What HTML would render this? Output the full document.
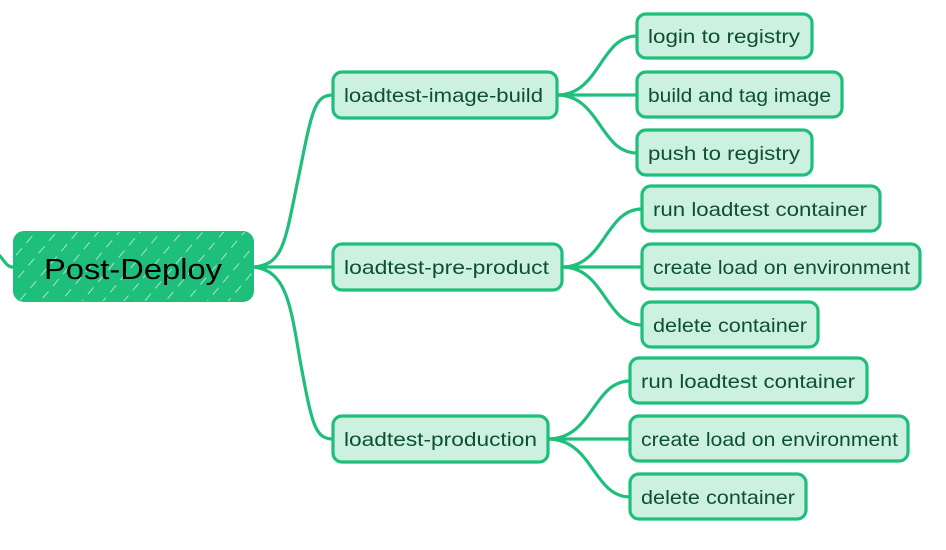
<!DOCTYPE html>
<html><head><meta charset="utf-8"><style>
html,body{margin:0;padding:0;background:#fff;}
svg{display:block;}
text{font-family:"Liberation Sans","DejaVu Sans",sans-serif;fill:#0d4f31;font-size:19.5px;}
</style></head><body>
<svg width="946" height="550" viewBox="0 0 946 550" xmlns="http://www.w3.org/2000/svg">
<defs>
<pattern id="h2" width="16" height="16" patternUnits="userSpaceOnUse" patternTransform="rotate(40)">
<line x1="0" y1="0" x2="0" y2="9" stroke="#ffffff" stroke-width="1.5" opacity="0.8"/>
</pattern>
</defs>
<g fill="none" stroke="#1dbf7b" stroke-width="3.2" stroke-linecap="round">
<path d="M0 256 C5 262 8 268 14 267"/>
<path d="M253 267 C285 265 285 240 300 170 C312 110 315 95 333 95"/>
<path d="M253 267 L333 267"/>
<path d="M253 267 C285 270 290 300 300 360 C312 425 315 439 333 439"/>
<path d="M557 95 C600 95 600 36 637 36"/>
<path d="M557 95 L637 95"/>
<path d="M557 95 C600 95 600 153 637 153"/>
<path d="M562 267 C605 267 605 209 642 209"/>
<path d="M562 267 L642 267"/>
<path d="M562 267 C605 267 605 325 642 325"/>
<path d="M548 439 C593 439 593 381 630 381"/>
<path d="M548 439 L630 439"/>
<path d="M548 439 C593 439 593 497 630 497"/>
</g>
<rect x="14" y="232" width="239" height="69" rx="10" fill="#1dbf7b" stroke="#1dbf7b" stroke-width="2"/>
<rect x="14" y="232" width="239" height="69" rx="10" fill="url(#h2)"/>
<text x="44" y="279" textLength="178" lengthAdjust="spacingAndGlyphs" style="font-size:29px;fill:#000">Post-Deploy</text>
<g stroke="#1dbf7b" stroke-width="3.2" fill="#cdf1e1">
<rect x="333" y="72" width="224" height="46" rx="9"/>
<rect x="333" y="244" width="229" height="46" rx="9"/>
<rect x="333" y="416" width="215" height="46" rx="9"/>
<rect x="637" y="14" width="175" height="44" rx="9"/>
<rect x="637" y="72" width="205" height="45" rx="9"/>
<rect x="637" y="130" width="175" height="45" rx="9"/>
<rect x="642" y="186" width="238" height="45" rx="9"/>
<rect x="642" y="244" width="278" height="45" rx="9"/>
<rect x="642" y="302" width="176" height="45" rx="9"/>
<rect x="630" y="358" width="237" height="45" rx="9"/>
<rect x="630" y="416" width="278" height="45" rx="9"/>
<rect x="630" y="474" width="176" height="45" rx="9"/>
</g>
<text x="344" y="102" textLength="199" lengthAdjust="spacingAndGlyphs">loadtest-image-build</text>
<text x="344" y="274" textLength="205" lengthAdjust="spacingAndGlyphs">loadtest-pre-product</text>
<text x="344" y="446" textLength="193" lengthAdjust="spacingAndGlyphs">loadtest-production</text>
<text x="648" y="43" textLength="152" lengthAdjust="spacingAndGlyphs">login to registry</text>
<text x="648" y="102" textLength="183" lengthAdjust="spacingAndGlyphs">build and tag image</text>
<text x="648" y="160" textLength="152" lengthAdjust="spacingAndGlyphs">push to registry</text>
<text x="653" y="216" textLength="214" lengthAdjust="spacingAndGlyphs">run loadtest container</text>
<text x="653" y="274" textLength="257" lengthAdjust="spacingAndGlyphs">create load on environment</text>
<text x="653" y="332" textLength="154" lengthAdjust="spacingAndGlyphs">delete container</text>
<text x="641" y="388" textLength="214" lengthAdjust="spacingAndGlyphs">run loadtest container</text>
<text x="641" y="446" textLength="257" lengthAdjust="spacingAndGlyphs">create load on environment</text>
<text x="641" y="504" textLength="154" lengthAdjust="spacingAndGlyphs">delete container</text>
</svg>
</body></html>
